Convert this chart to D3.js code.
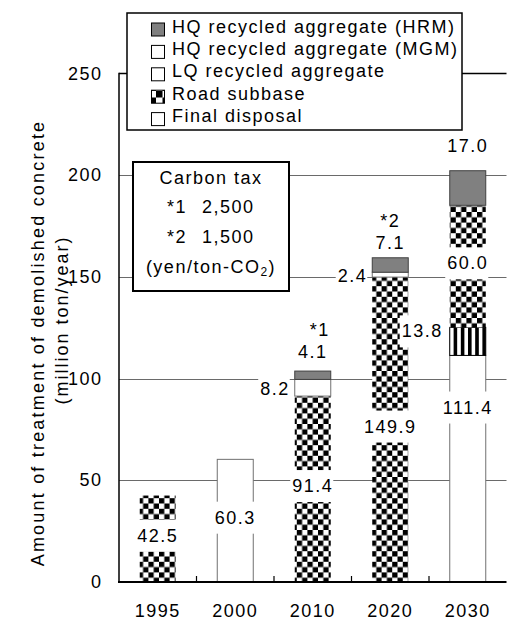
<!DOCTYPE html>
<html><head><meta charset="utf-8">
<script src="https://cdnjs.cloudflare.com/ajax/libs/d3/7.8.5/d3.min.js"></script>
<style>
html,body{margin:0;padding:0;background:#fff;}
text{font-family:"Liberation Sans",Arial,sans-serif;font-size:18px;letter-spacing:1.5px;fill:#000;}
</style></head>
<body><svg id="c" width="507" height="621"></svg>
<script>
// ---- data ----
const categories = ["1995", "2000", "2010", "2020", "2030"];
const finalDisposal = [0, 60.3, 0, 0, 111.4];
const lqRecycled = [0, 0, 0, 0, 13.8];
const roadSubbase = [42.5, 0, 91.4, 149.9, 60.0];
const hqMGM = [0, 0, 8.2, 2.4, 0];
const hqHRM = [0, 0, 4.1, 7.1, 17.0];
const carbonNotes = ["", "", "*1", "*2", ""];
const yTicks = [0, 50, 100, 150, 200, 250];
const legendLabels = ["HQ recycled aggregate (HRM)", "HQ recycled aggregate (MGM)", "LQ recycled aggregate", "Road subbase", "Final disposal"];
const taxTitle = "Carbon tax";
const taxKeys = ["*1", "*2"];
const taxValues = ["2,500", "1,500"];
const yTitle1 = "Amount of treatment of demolished concrete";
const yTitle2 = "(million ton/year)";

const keys = ["final", "lq", "road", "mgm", "hrm"];
const table = categories.map((c, i) => ({cat: c, final: finalDisposal[i], lq: lqRecycled[i], road: roadSubbase[i], mgm: hqMGM[i], hrm: hqHRM[i]}));

const svg = d3.select("#c");
const defs = svg.append("defs");
const cs = 5.3;
const chk = defs.append("pattern").attr("id", "chk").attr("patternUnits", "userSpaceOnUse").attr("width", cs * 2).attr("height", cs * 2);
chk.append("rect").attr("width", cs * 2).attr("height", cs * 2).attr("fill", "#fff");
chk.append("rect").attr("width", cs).attr("height", cs).attr("fill", "#000");
chk.append("rect").attr("x", cs).attr("y", cs).attr("width", cs).attr("height", cs).attr("fill", "#000");
const lc = 6.5;
const chk2 = defs.append("pattern").attr("id", "chk2").attr("patternUnits", "userSpaceOnUse").attr("width", lc * 2).attr("height", lc * 2);
chk2.append("rect").attr("width", lc * 2).attr("height", lc * 2).attr("fill", "#fff");
chk2.append("rect").attr("width", lc).attr("height", lc).attr("fill", "#000");
chk2.append("rect").attr("x", lc).attr("y", lc).attr("width", lc).attr("height", lc).attr("fill", "#000");
const sp = 7.2;
const str = defs.append("pattern").attr("id", "str").attr("patternUnits", "userSpaceOnUse").attr("width", sp).attr("height", 10);
str.append("rect").attr("width", sp).attr("height", 10).attr("fill", "#fff");
str.append("rect").attr("width", sp / 2).attr("height", 10).attr("fill", "#000");

const x = d3.scaleBand().domain(categories).range([119, 506.5]).paddingInner(0.535).paddingOuter(0.2675);
const y = d3.scaleLinear().domain([0, 250]).range([582, 73.5]);

const fills = {final: "#fff", lq: "url(#str)", road: "url(#chk)", mgm: "#fff", hrm: "#808080"};
const strokes = {final: "#707070", lq: "#000", road: "none", mgm: "#707070", hrm: "#404040"};

svg.append("g").selectAll("line").data(yTicks.filter(t => t > 0 && t < 250)).join("line")
  .attr("x1", 119).attr("x2", 506.5).attr("y1", d => Math.round(y(d)) + 0.5).attr("y2", d => Math.round(y(d)) + 0.5)
  .attr("stroke", "#6a6a6a").attr("stroke-width", 1);
svg.append("line").attr("x1", 119).attr("x2", 506.5).attr("y1", y(250)).attr("y2", y(250)).attr("stroke", "#000").attr("stroke-width", 1.5);

const stack = d3.stack().keys(keys)(table);
const bw = 36;
stack.forEach(layer => {
  svg.append("g").selectAll("rect").data(layer.filter(d => d[1] - d[0] > 0)).join("rect")
    .attr("x", d => x(d.data.cat) + x.bandwidth() / 2 - bw / 2)
    .attr("width", bw)
    .attr("y", d => y(d[1]))
    .attr("height", d => y(d[0]) - y(d[1]))
    .attr("fill", fills[layer.key])
    .attr("stroke", strokes[layer.key]).attr("stroke-width", 1);
});

svg.append("line").attr("x1", 119).attr("x2", 119).attr("y1", y(250) - 0.75).attr("y2", 583).attr("stroke", "#000").attr("stroke-width", 1.5);
svg.append("line").attr("x1", 118).attr("x2", 506.5).attr("y1", 582).attr("y2", 582).attr("stroke", "#000").attr("stroke-width", 2);
svg.append("g").selectAll("line").data(categories.slice(1)).join("line")
  .attr("x1", d => x(d) - x.step() * x.paddingInner() / 2).attr("x2", d => x(d) - x.step() * x.paddingInner() / 2)
  .attr("y1", 576).attr("y2", 582).attr("stroke", "#000").attr("stroke-width", 1.2);

svg.append("g").selectAll("text").data(yTicks).join("text")
  .attr("x", 102.5).attr("y", d => y(d)).attr("text-anchor", "end").attr("dominant-baseline", "central").text(d => d);
svg.append("g").selectAll("text").data(categories).join("text")
  .attr("x", d => x(d) + x.bandwidth() / 2).attr("y", 611).attr("text-anchor", "middle").attr("dominant-baseline", "central").text(d => d);

svg.append("text").attr("transform", `translate(38,343) rotate(-90)`).attr("text-anchor", "middle").attr("dominant-baseline", "central").style("letter-spacing", "2.2px").text(yTitle1);
svg.append("text").attr("transform", `translate(62,320) rotate(-90)`).attr("text-anchor", "middle").attr("dominant-baseline", "central").style("letter-spacing", "2px").text(yTitle2);

function label(txt, cx, cy, anchor) {
  const t = svg.append("text").attr("x", cx).attr("y", cy).attr("text-anchor", anchor).attr("dominant-baseline", "central").text(txt);
  const b = t.node().getBBox();
  svg.insert("rect", () => t.node()).attr("x", b.x - 2).attr("y", cy - 16).attr("width", b.width + 2).attr("height", 32).attr("fill", "#fff");
}
const cx = c => x(c) + x.bandwidth() / 2;
const fmt = d3.format(".1f");
stack.forEach(layer => {
  layer.forEach((d, i) => {
    const v = d[1] - d[0];
    if (v <= 0) return;
    const c = d.data.cat;
    const k = layer.key;
    if (k === "hrm") {
      const off = i === 2 ? 19 : i === 3 ? 15 : 25;
      const ty = y(d[1]) - off;
      svg.append("text").attr("x", cx(c)).attr("y", ty).attr("text-anchor", "middle").attr("dominant-baseline", "central").text(fmt(v));
      if (carbonNotes[i]) svg.append("text").attr("x", cx(c) + (i === 2 ? 7 : 0)).attr("y", ty - 22).attr("text-anchor", "middle").attr("dominant-baseline", "central").text(carbonNotes[i]);
    } else if (k === "mgm" || k === "lq") {
      const ym = (y(d[0]) + y(d[1])) / 2 + (k === "lq" ? -10 : 1);
      label(fmt(v), cx(c) - bw / 2 - (k === "lq" ? 7 : 5), ym, "end");
    } else {
      let ym = (y(d[0]) + y(d[1])) / 2 - 3;
      if (k === "final" && i === 4) ym = y(d[0] + v * 0.77);
      label(fmt(v), cx(c), ym, "middle");
    }
  });
});

const bx = 133, by = 162, bwid = 156, bh = 129;
svg.append("rect").attr("x", bx).attr("y", by).attr("width", bwid).attr("height", bh).attr("fill", "#fff").attr("stroke", "#000").attr("stroke-width", 2);
const bc = bx + bwid / 2;
svg.append("text").attr("x", bc).attr("y", 177.5).attr("text-anchor", "middle").attr("dominant-baseline", "central").text(taxTitle);
taxKeys.forEach((k, i) => {
  svg.append("text").attr("x", bc - 24).attr("y", 207.3 + i * 29.6).attr("text-anchor", "end").attr("dominant-baseline", "central").text(k);
  svg.append("text").attr("x", bc - 9).attr("y", 207.3 + i * 29.6).attr("text-anchor", "start").attr("dominant-baseline", "central").text(taxValues[i]);
});
const unit = svg.append("text").attr("x", bc).attr("y", 266.7).attr("text-anchor", "middle").attr("dominant-baseline", "central");
unit.append("tspan").text("(yen/ton-CO");
unit.append("tspan").attr("font-size", "12px").attr("dy", 5).text("2");
unit.append("tspan").attr("dy", -5).text(")");

const lx = 127, ly = 13, lw = 335, lh = 117;
svg.append("rect").attr("x", lx).attr("y", ly).attr("width", lw).attr("height", lh).attr("fill", "#fff").attr("stroke", "#000").attr("stroke-width", 1.5);
const lfill = ["#808080", "#fff", "#fff", "url(#chk2)", "#fff"];
legendLabels.forEach((t, i) => {
  const ry = 26.5 + i * 22.4;
  svg.append("rect").attr("x", 151.5).attr("y", ry - 3.5).attr("width", 13).attr("height", 13).attr("fill", lfill[i]).attr("stroke", "#000").attr("stroke-width", 1);
  svg.append("text").attr("x", 172).attr("y", ry).attr("dominant-baseline", "central").text(t);
});
</script></body></html>
